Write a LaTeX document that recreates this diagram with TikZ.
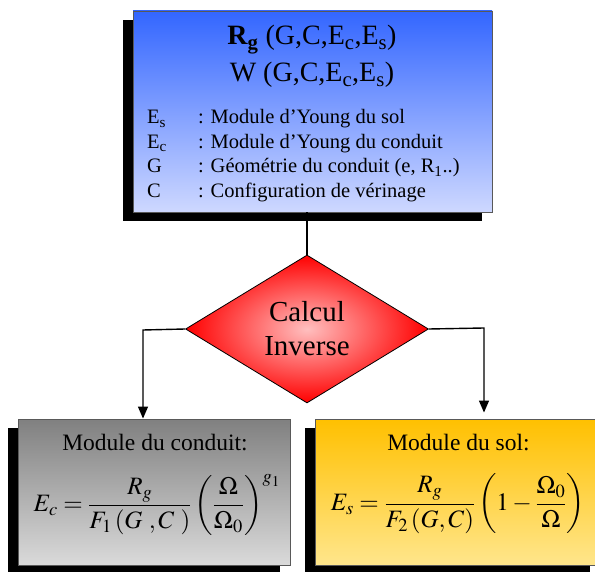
\documentclass[tikz,border=0pt]{standalone}
\usepackage{amsmath}
\usepackage{mathptmx}
\usepackage[no-math]{fontspec}
\setmainfont{Liberation Serif}
\usepackage{tikz}
\usetikzlibrary{arrows.meta, shapes.geometric, shadows}

\definecolor{bluetop}{RGB}{51,102,255}
\definecolor{bluebot}{RGB}{206,216,255}
\definecolor{graytop}{RGB}{128,128,128}
\definecolor{graybot}{RGB}{218,218,218}
\definecolor{goldtop}{RGB}{255,192,0}
\definecolor{goldbot}{RGB}{255,230,140}

\begin{document}
\begin{tikzpicture}[x=1pt, y=-1pt,
    panel/.style={draw=black!65, line width=0.9pt, inner sep=0pt,
        drop shadow={shadow xshift=-10pt, shadow yshift=-9pt, fill=black, opacity=1}},
    link/.style={line width=1.4pt},
    arrow/.style={link, -{Triangle[width=10pt, length=12pt]}}]
    \path[use as bounding box, clip] (0,0) rectangle (595,572);

    % parameter box
    \node[panel, top color=bluetop, bottom color=bluebot, minimum width=359pt, minimum height=201pt] (params) at (312.5,111.5) {};
    \node[font=\fontsize{28}{32}\selectfont, anchor=base] (rg) at (312,45) {\textbf{R\textsubscript{g}} (G,C,E\textsubscript{c},E\textsubscript{s})};
    \node[font=\fontsize{28}{32}\selectfont, anchor=base] (w) at (312,82) {W (G,C,E\textsubscript{c},E\textsubscript{s})};
    \node[font=\fontsize{20.5}{24.5}\selectfont, anchor=base west, inner sep=0pt] (legend) at (147,124) {\begin{tabular}[t]{@{}p{51pt}@{}l@{}}
        E\textsubscript{s} & : Module d'Young du sol\\
        E\textsubscript{c} & : Module d'Young du conduit\\
        G & : Géométrie du conduit (e, R\textsubscript{1}..)\\
        C & : Configuration de vérinage
    \end{tabular}};

    % inverse step
    \node[diamond, draw=black, line width=0.8pt, inner color=red!25, outer color=red,
        minimum width=243pt, minimum height=148pt, aspect=1.64, inner sep=0pt,
        align=center, font=\fontsize{29}{34}\selectfont] (calc) at (307,329) {Calcul\\Inverse};

    % results
    \node[panel, top color=graytop, bottom color=graybot, minimum width=272pt, minimum height=146pt] (conduit) at (154,492) {};
    \node[panel, top color=goldtop, bottom color=goldbot, minimum width=285pt, minimum height=146pt] (sol) at (457.5,492) {};
    \node[font=\fontsize{23.5}{28}\selectfont, anchor=base] (cname) at (155,450) {Module du conduit:};
    \node[font=\fontsize{23.5}{28}\selectfont, anchor=base] (sname) at (458.5,450) {Module du sol:};
    \node[font=\fontsize{25}{30}\selectfont, inner sep=0pt] (cform) at (157,505) {$\displaystyle E_c=\frac{R_g}{F_1\left(G\ ,C\ \right)}\left(\frac{\Omega}{\Omega_0}\right)^{g_1}$};
    \node[font=\fontsize{25}{30}\selectfont, inner sep=0pt] (sform) at (458,504) {$\displaystyle E_s=\frac{R_g}{F_2\left(G,C\right)}\left(1-\frac{\Omega_0}{\Omega}\right)$};

    % connectors
    \coordinate (lturn) at (143,330);
    \coordinate (rturn) at (484,328);
    \draw[link] (params.south -| calc.north) -- (calc.north);
    \draw[arrow] (calc.west) -- (lturn) -- (lturn |- conduit.north);
    \draw[arrow] (calc.east) -- (rturn) -- ([yshift=6pt]rturn |- sol.north);
\end{tikzpicture}
\end{document}
